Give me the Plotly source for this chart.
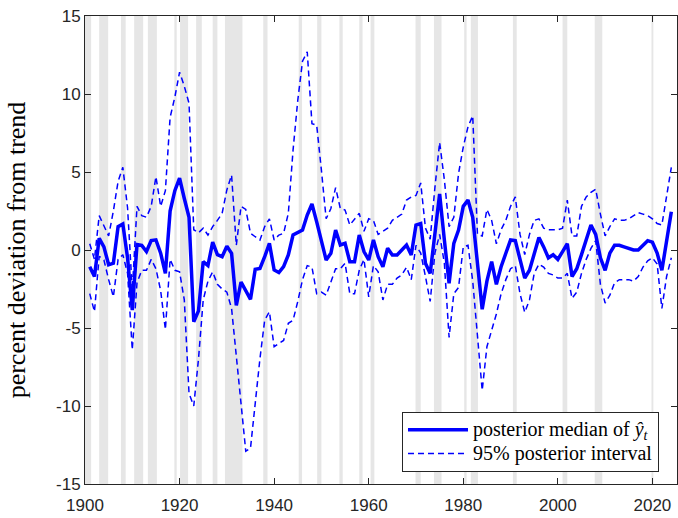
import plotly.graph_objects as go

years = list(range(1901, 2025))

median = [
    -1.07, -1.7, 0.75, 0.2, -0.95, -0.85, 1.5, 1.67, -0.5, -3.85,
    0.35, 0.3, -0.1, 0.6, 0.65, -0.2, -1.5, 2.5, 3.8, 4.6,
    3.3, 2.1, -4.6, -3.9, -0.75, -1.0, 0.5, -0.3, -0.43, 0.24,
    -0.21, -3.55, -2.05, -2.56, -3.16, -1.24, -1.18, -0.43, 0.43, -1.28,
    -1.45, -1.07, -0.32, 0.96, 1.11, 1.28, 2.24, 2.95, 1.8, 0.64,
    -0.64, -0.21, 1.28, 0.32, 0.43, -0.75, -0.75, 0.96, -0.1, -0.64,
    0.64, -0.43, -1.07, 0.11, -0.32, -0.32, 0.0, 0.32, -0.32, 1.6,
    1.7, -0.85, -1.5, 1.07, 3.6, 0.64, -2.14, 0.43, 1.28, 2.8,
    3.2, 2.1, -0.8, -3.8, -2.0, -0.75, -2.2, -1.07, -0.21, 0.64,
    0.6, -0.5, -1.8, -1.3, -0.3, 0.8, 0.2, -0.5, -0.3, -0.6,
    -0.1, 0.4, -1.7, -1.2, -0.3, 0.6, 1.6, 1.0, -0.5, -1.3,
    -0.2, 0.3, 0.3, 0.2, 0.1, 0.0, 0.0, 0.3, 0.6, 0.5,
    -0.2, -1.3, 0.6, 2.45,
]

upper = [
    0.4, -0.6, 2.2, 1.5, 0.9, 2.5, 4.4, 5.3, 2.7, -2.6,
    2.8, 2.2, 2.1, 2.8, 4.7, 2.8, 3.8, 8.5, 9.8, 11.4,
    10.5, 9.4, 1.3, 1.1, 1.4, 0.96, 1.5, 1.9, 2.35, 3.85,
    4.8, 0.3, 2.8, 2.6, 1.07, 0.85, 0.64, 1.5, 2.0, 0.64,
    0.96, 1.07, 2.35, 6.4, 9.6, 12.1, 12.7, 8.1, 8.0, 5.1,
    2.0, 2.66, 4.0, 2.66, 2.56, 1.6, 2.0, 2.35, 1.2, 2.0,
    1.9, 1.0, 1.2, 1.4, 1.9, 2.1, 2.3, 3.2, 3.4, 3.5,
    4.3, 1.4, 0.7, 4.0, 6.9, 4.5, 1.5, 2.1, 4.9, 6.6,
    7.9, 8.6, 1.0, 0.9, 2.6, 1.9, 0.4, 1.3, 1.9, 2.8,
    3.4, 1.0, -0.3, 1.0, 1.9, 2.0, 1.4, 1.3, 1.3, 1.3,
    1.4, 3.2, 0.9, 0.9, 2.8, 3.4, 3.7, 3.9, 2.3, 0.9,
    1.5, 2.0, 1.9, 1.9, 2.0, 2.2, 2.4, 2.3, 2.2, 2.0,
    1.7, 1.6, 3.5, 5.3,
]

lower = [
    -2.8, -3.95, -0.4, -0.64, -1.9, -3.0, -0.6, -0.3, -1.5, -6.4,
    -2.1, -1.3, -1.3, -0.6, -1.2, -2.6, -5.1, -0.6, -1.3, -1.4,
    -3.2, -9.2, -10.0, -7.0, -3.2, -2.0, -1.4, -2.2, -2.5, -2.7,
    -3.75, -6.7, -9.6, -12.9, -12.7, -9.6, -6.96, -4.5, -3.96, -6.2,
    -6.0, -5.8, -4.7, -4.5, -3.3, -1.9, -1.0, -1.1, -2.8, -2.7,
    -2.9, -2.0, -1.2, -1.2, -0.85, -2.8, -2.8, -1.3, -0.6, -3.0,
    -1.0, -1.4, -3.2, -2.2, -2.2, -1.8, -1.6, -1.1, -1.9, 0.3,
    -0.2, -1.7, -3.3, -0.2, 1.0, -0.85, -5.6, -2.8, -2.4, 0.2,
    0.3, -2.0, -5.8, -9.0, -6.2, -5.1, -4.1, -2.8, -1.9, -1.2,
    -1.0, -2.8, -4.0, -3.2, -1.5, -0.9, -1.1, -1.5, -1.6, -1.8,
    -1.8, -1.5, -3.1, -2.7, -1.5, -0.6, 0.1, 0.6, -2.2, -3.4,
    -2.9, -2.1, -1.9, -1.9, -1.9, -2.0, -1.7, -1.1, -0.7, -0.5,
    -0.9, -3.75, -1.7, -0.5,
]

rec_start = [1900.0, 1903.0, 1907.6, 1910.4, 1913.3, 1918.9, 1920.1, 1923.5,
             1927.0, 1929.6, 1937.7, 1945.2, 1949.1, 1953.8, 1958.0, 1960.4,
             1969.9, 1973.8, 1980.2, 1981.6, 1990.5, 2001.0, 2007.8, 2019.8]
rec_end = [1901.3, 1904.9, 1908.6, 1912.3, 1915.2, 1919.4, 1921.8, 1924.7,
           1928.0, 1933.3, 1938.6, 1945.9, 1950.0, 1954.5, 1958.7, 1961.2,
           1971.0, 1975.4, 1980.7, 1983.1, 1991.3, 2002.0, 2009.4, 2020.2]

x_ticks = [1900, 1920, 1940, 1960, 1980, 2000, 2020]
y_ticks = [-15, -10, -5, 0, 5, 10, 15]
y_tick_text = ["-15", "-10", "-5", "0", "5", "10", "15"]

BLUE = "#0000FF"
AX = "#262626"
LEG_SPAN = '<span style="font-size:20px">{}</span>'

fig = go.Figure()

fig.add_trace(go.Scatter(
    x=years, y=median, mode="lines",
    line=dict(color=BLUE, width=3.5),
    name=LEG_SPAN.format("posterior median of <i>ŷ</i><sub><i>t</i></sub>"),
))
fig.add_trace(go.Scatter(
    x=years, y=upper, mode="lines",
    line=dict(color=BLUE, width=1.5, dash="6px,4px"),
    name=LEG_SPAN.format("95% posterior interval"),
))
fig.add_trace(go.Scatter(
    x=years, y=lower, mode="lines",
    line=dict(color=BLUE, width=1.5, dash="6px,4px"),
    name="95% posterior interval", showlegend=False,
))

shapes = []
for s, e in zip(rec_start, rec_end):
    shapes.append(dict(type="rect", xref="x", yref="paper", x0=s, x1=e, y0=0, y1=1,
                       fillcolor="#E6E6E6", line=dict(width=0), layer="below"))

fig.update_layout(
    width=678, height=518,
    margin=dict(l=85, r=1, t=16, b=34),
    paper_bgcolor="white", plot_bgcolor="white",
    shapes=shapes,
    font=dict(family="Liberation Sans, Arial, sans-serif", size=17, color=AX),
    legend=dict(
        x=0.9696, y=0.026, xanchor="right", yanchor="bottom",
        bgcolor="white", bordercolor=AX, borderwidth=1,
        font=dict(family="Liberation Serif, serif", size=16, color="#000000"),
        tracegroupgap=0, itemwidth=60,
    ),
    xaxis=dict(
        range=[1900, 2025.2], tickvals=x_ticks, ticks="inside", ticklen=6,
        tickcolor=AX, showline=True, linecolor=AX, linewidth=1, mirror="ticks",
        showgrid=False, zeroline=False, ticklabelstandoff=6,
        tickfont=dict(family="Liberation Sans, Arial, sans-serif", size=17, color=AX),
    ),
    yaxis=dict(
        range=[-15, 15], tickvals=y_ticks, ticktext=y_tick_text, ticks="inside", ticklen=6,
        tickcolor=AX, showline=True, linecolor=AX, linewidth=1, mirror="ticks",
        showgrid=False, zeroline=False,
        tickfont=dict(family="Liberation Sans, Arial, sans-serif", size=17, color=AX),
        title=dict(text="percent deviation from trend",
                   font=dict(family="Liberation Serif, serif", size=26, color="#000000"),
                   standoff=22),
    ),
)

fig.write_html("out.html")
